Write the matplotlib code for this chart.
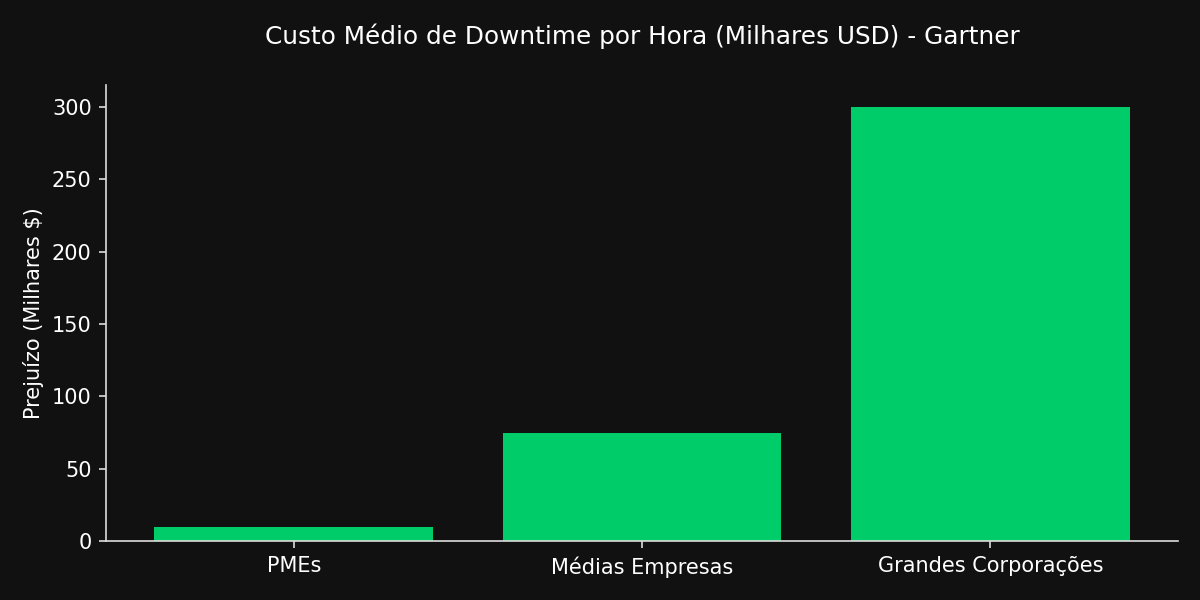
import matplotlib
matplotlib.use("Agg")
import matplotlib.pyplot as plt

categories = ["PMEs", "Médias Empresas", "Grandes Corporações"]
values = [10, 75, 300]

bg = "#111111"
fig, ax = plt.subplots(figsize=(12, 6), dpi=100)
fig.patch.set_facecolor(bg)
ax.set_facecolor(bg)

ax.bar(categories, values, color="#00cc6a", width=0.8)

ax.set_title("Custo Médio de Downtime por Hora (Milhares USD) - Gartner",
             color="white", fontsize=17.8, pad=30)
ax.set_ylabel("Prejuízo (Milhares $)", color="white", fontsize=15, labelpad=6)
ax.tick_params(colors="white", labelsize=15, width=1.2, length=5)
ax.tick_params(axis="x", colors="#dddddd", labelcolor="white", pad=6)
ax.tick_params(axis="y", colors="#dddddd", labelcolor="white", pad=5)
for s in ["top", "right"]:
    ax.spines[s].set_visible(False)
for s in ["left", "bottom"]:
    ax.spines[s].set_color("#dddddd")
    ax.spines[s].set_linewidth(1.2)

fig.subplots_adjust(left=0.088, right=0.982, bottom=0.098, top=0.858)
fig.savefig("out.png", facecolor=bg)
